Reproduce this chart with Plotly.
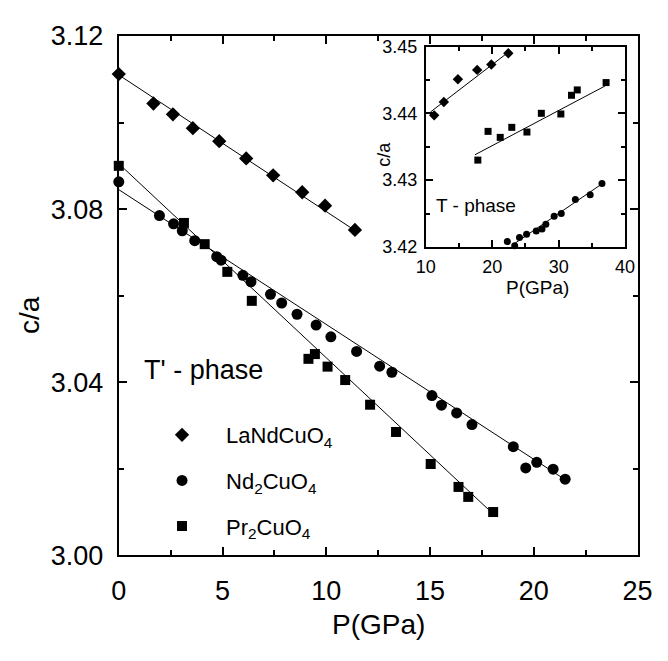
import plotly.graph_objects as go

W, H = 668, 661
FONT = "Liberation Sans, Arial, Helvetica, sans-serif"

# ---- main panel: T'-phase c/a versus pressure ----
la_p = [0, 1.67, 2.61, 3.57, 4.84, 6.14, 7.44, 8.84, 9.94, 11.38]
la_ca = [3.1112, 3.1044, 3.1019, 3.0987, 3.0957, 3.0917, 3.0878, 3.0839, 3.0808, 3.0752]

nd_p = [0, 1.96, 2.64, 3.06, 3.66, 4.72, 4.93, 5.98, 6.37, 7.31, 7.85, 8.59, 9.51,
        10.22, 11.46, 12.57, 13.16, 15.09, 15.55, 16.28, 17.02, 19.01, 19.61, 20.14,
        20.93, 21.51]
nd_ca = [3.0863, 3.0785, 3.0766, 3.0750, 3.0727, 3.0690, 3.0682, 3.0647, 3.0632,
         3.0603, 3.0583, 3.0557, 3.0532, 3.0505, 3.0471, 3.0437, 3.0423, 3.0369,
         3.0347, 3.0329, 3.0302, 3.0251, 3.0202, 3.0215, 3.0199, 3.0176]

pr_p = [0, 3.14, 4.14, 5.23, 6.41, 9.14, 9.45, 10.06, 10.91, 12.11, 13.36, 15.03,
        16.37, 16.84, 18.04]
pr_ca = [3.0900, 3.0768, 3.0719, 3.0655, 3.0588, 3.0454, 3.0465, 3.0436, 3.0405,
         3.0348, 3.0285, 3.0211, 3.0158, 3.0135, 3.0100]

# linear fits (end points)
la_fit_p = [0, 11.4]
la_fit_ca = [3.1110, 3.0750]
nd_fit_p = [0, 21.6]
nd_fit_ca = [3.0845, 3.0172]
pr_fit_p = [0, 18.1]
pr_fit_ca = [3.0905, 3.0093]

# ---- inset: T-phase ----
ti_la_p = [11.26, 12.71, 14.83, 17.73, 19.86, 22.42]
ti_la_ca = [3.4397, 3.4417, 3.4451, 3.4465, 3.4473, 3.4490]
ti_pr_p = [17.83, 19.37, 21.2, 22.94, 25.22, 27.39, 30.33, 31.93, 32.8, 37.14]
ti_pr_ca = [3.4330, 3.4373, 3.4364, 3.4379, 3.4372, 3.4400, 3.4399, 3.4427, 3.4435, 3.4446]
ti_nd_p = [22.27, 23.38, 24.1, 25.17, 26.62, 27.49, 28.07, 29.32, 30.39, 32.51, 34.74, 36.52]
ti_nd_ca = [3.4208, 3.4202, 3.4214, 3.4219, 3.4224, 3.4227, 3.4234, 3.4246, 3.4250,
            3.4271, 3.4278, 3.4295]

ti_la_fit_p = [10.7, 22.5]
ti_la_fit_ca = [3.4402, 3.4492]
ti_pr_fit_p = [17.4, 37.0]
ti_pr_fit_ca = [3.4338, 3.4441]
ti_nd_fit_p = [23.2, 36.9]
ti_nd_fit_ca = [3.4204, 3.4297]

fig = go.Figure()

line_style = dict(color="black", width=1)


def add_fit(p, ca, xa="x", ya="y"):
    fig.add_trace(go.Scatter(x=p, y=ca, mode="lines", line=line_style,
                             showlegend=False, hoverinfo="skip", xaxis=xa, yaxis=ya))


add_fit(la_fit_p, la_fit_ca)
add_fit(nd_fit_p, nd_fit_ca)
add_fit(pr_fit_p, pr_fit_ca)

fig.add_trace(go.Scatter(x=la_p, y=la_ca, mode="markers", name="LaNdCuO<sub>4</sub>",
                         marker=dict(symbol="diamond", size=11, color="black"),
                         legendgroup="a", cliponaxis=False))
fig.add_trace(go.Scatter(x=nd_p, y=nd_ca, mode="markers", name="Nd<sub>2</sub>CuO<sub>4</sub>",
                         marker=dict(symbol="circle", size=11, color="black"),
                         legendgroup="b", cliponaxis=False))
fig.add_trace(go.Scatter(x=pr_p, y=pr_ca, mode="markers", name="Pr<sub>2</sub>CuO<sub>4</sub>",
                         marker=dict(symbol="square", size=10, color="black"),
                         legendgroup="c", cliponaxis=False))

add_fit(ti_la_fit_p, ti_la_fit_ca, "x2", "y2")
add_fit(ti_pr_fit_p, ti_pr_fit_ca, "x2", "y2")
add_fit(ti_nd_fit_p, ti_nd_fit_ca, "x2", "y2")
fig.add_trace(go.Scatter(x=ti_la_p, y=ti_la_ca, mode="markers", showlegend=False,
                         marker=dict(symbol="diamond", size=8, color="black"),
                         xaxis="x2", yaxis="y2", cliponaxis=False))
fig.add_trace(go.Scatter(x=ti_pr_p, y=ti_pr_ca, mode="markers", showlegend=False,
                         marker=dict(symbol="square", size=7, color="black"),
                         xaxis="x2", yaxis="y2", cliponaxis=False))
fig.add_trace(go.Scatter(x=ti_nd_p, y=ti_nd_ca, mode="markers", showlegend=False,
                         marker=dict(symbol="circle", size=7, color="black"),
                         xaxis="x2", yaxis="y2", cliponaxis=False))


def px_x(v):
    return v / W


def px_y(v):
    return 1 - v / H


axis_common = dict(showline=True, linecolor="black", mirror="ticks", ticks="inside",
                   tickcolor="black", showgrid=False, zeroline=False)

fig.update_layout(
    width=W, height=H, margin=dict(l=0, r=0, t=0, b=0),
    paper_bgcolor="white", plot_bgcolor="white",
    font=dict(family=FONT, color="black"),
    xaxis=dict(domain=[px_x(113), px_x(652)], range=[0, 25], dtick=5,
               linewidth=2, tickwidth=1.5, ticklen=8,
               tickfont=dict(size=27), ticklabelstandoff=10,
               minor=dict(dtick=2.5, ticks="inside", ticklen=5, tickwidth=1.5,
                          tickcolor="black", showgrid=False),
               anchor="y", **axis_common),
    yaxis=dict(domain=[px_y(566), px_y(22)], range=[3.00, 3.12], dtick=0.04,
               tickformat=".2f", linewidth=2, tickwidth=1.5, ticklen=8,
               tickfont=dict(size=27), ticklabelstandoff=8,
               minor=dict(dtick=0.02, ticks="inside", ticklen=5, tickwidth=1.5,
                          tickcolor="black", showgrid=False),
               anchor="x", **axis_common),
    xaxis2=dict(domain=[px_x(432), px_x(639)], range=[10, 40], dtick=10,
                linewidth=2, tickwidth=1.5, ticklen=7,
                tickfont=dict(size=18), ticklabelstandoff=2,
                minor=dict(dtick=5, ticks="inside", ticklen=4, tickwidth=1.5,
                           tickcolor="black", showgrid=False),
                anchor="y2", **axis_common),
    yaxis2=dict(domain=[px_y(243), px_y(33)], range=[3.42, 3.45], dtick=0.01,
                tickformat=".2f", linewidth=2, tickwidth=1.5, ticklen=7,
                tickfont=dict(size=18), ticklabelstandoff=3,
                minor=dict(dtick=0.005, ticks="inside", ticklen=4, tickwidth=1.5,
                           tickcolor="black", showgrid=False),
                anchor="x2", **axis_common),
    legend=dict(x=px_x(133), y=px_y(418), xanchor="left", yanchor="top",
                font=dict(size=22), bgcolor="rgba(0,0,0,0)", tracegroupgap=14,
                itemwidth=78),
    showlegend=True,
)

annotations = [
    dict(text="P(GPa)", x=px_x(383), y=px_y(638), font=dict(size=28)),
    dict(text="c/a", x=px_x(21), y=px_y(314), font=dict(size=28), textangle=-90),
    dict(text="T' - phase", x=px_x(137), y=px_y(372), font=dict(size=27), xanchor="left"),
    dict(text="P(GPa)", x=px_x(548), y=px_y(285), font=dict(size=19)),
    dict(text="c/a", x=px_x(389), y=px_y(146), font=dict(size=18), textangle=-90),
    dict(text="T - phase", x=px_x(441), y=px_y(200), font=dict(size=19), xanchor="left"),
]
for a in annotations:
    a.update(xref="paper", yref="paper", showarrow=False)
    a.setdefault("xanchor", "center")
    a.setdefault("yanchor", "middle")
fig.update_layout(annotations=annotations)

fig.write_html("out.html")
